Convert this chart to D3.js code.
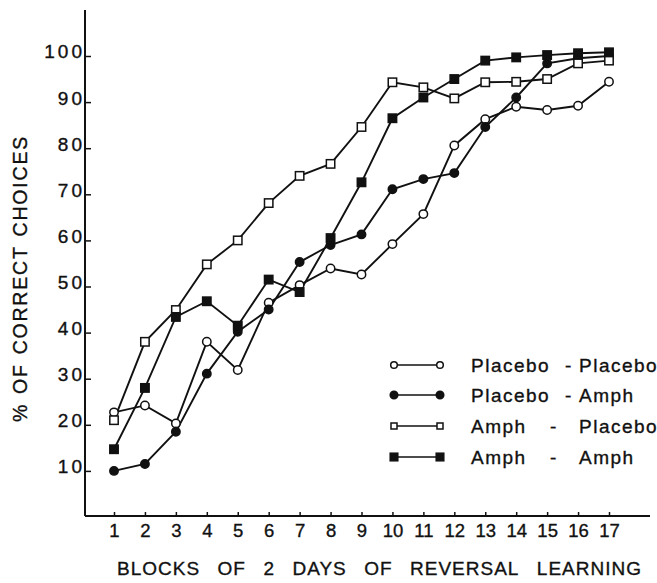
<!DOCTYPE html>
<html>
<head>
<meta charset="utf-8">
<script src="https://cdn.jsdelivr.net/npm/d3@7"></script>
<style>
  html, body { margin: 0; padding: 0; background: #fff; }
  svg { display: block; }
  text { font-family: "Liberation Sans", Arial, sans-serif; fill: #111; stroke: #111; stroke-width: 0.35px; }
</style>
</head>
<body>
<svg id="chart" width="657" height="583"></svg>
<script>
/* ---------- data ---------- */
const blocks = [1, 2, 3, 4, 5, 6, 7, 8, 9, 10, 11, 12, 13, 14, 15, 16, 17];
const yTicks = [10, 20, 30, 40, 50, 60, 70, 80, 90, 100];

const placeboPlacebo = [22.7, 24.2, 20.3, 38, 31.9, 46.5, 50.3, 53.9, 52.6, 59.2, 65.7, 80.6, 86.3, 89, 88.3, 89.2, 94.4];
const placeboAmph    = [10, 11.5, 18.5, 31.1, 40.2, 45, 55.3, 59, 61.3, 71.1, 73.3, 74.6, 84.6, 91, 98.4, 99.5, 100];
const amphPlacebo    = [21, 38, 44.9, 54.8, 60, 68.1, 74, 76.6, 84.6, 94.3, 93.2, 90.8, 94.3, 94.4, 95, 98.4, 99];
const amphAmph       = [14.7, 28, 43.4, 46.8, 41.5, 51.5, 48.8, 60.5, 72.6, 86.5, 91, 95, 99, 99.7, 100.2, 100.6, 100.8];

const seriesNames = [["Placebo", "Placebo"], ["Placebo", "Amph"], ["Amph", "Placebo"], ["Amph", "Amph"]];
const seriesMarks = ["openCircle", "filledCircle", "openSquare", "filledSquare"];
const seriesValues = [placeboPlacebo, placeboAmph, amphPlacebo, amphAmph];

const xTitleWords = ["BLOCKS", "OF", "2", "DAYS", "OF", "REVERSAL", "LEARNING"];
const yTitleWords = ["%", "OF", "CORRECT", "CHOICES"];

/* ---------- scales ---------- */
const svg = d3.select("#chart");
const x = d3.scaleLinear().domain([1, 17]).range([114, 609]);
const y = d3.scaleLinear().domain([0, 100]).range([517, 56]);
const AX_X = 85, AX_Y = 516;

/* ---------- axes ---------- */
svg.append("line")
  .attr("x1", AX_X).attr("x2", AX_X).attr("y1", 10).attr("y2", AX_Y)
  .attr("stroke", "#111").attr("stroke-width", 2);
svg.append("line")
  .attr("x1", AX_X).attr("x2", 650).attr("y1", AX_Y).attr("y2", AX_Y)
  .attr("stroke", "#111").attr("stroke-width", 2);

const gx = svg.append("g").attr("transform", `translate(0,${AX_Y})`)
  .call(d3.axisBottom(x).tickValues(blocks).tickSize(-4).tickPadding(8));
gx.select(".domain").remove();
gx.selectAll("line").attr("stroke", "#111").attr("stroke-width", 1.5);
gx.selectAll("text").attr("font-size", 18.5).attr("fill", "#111")
  .style("font-family", '"Liberation Sans", Arial, sans-serif');

const gy = svg.append("g").attr("transform", `translate(${AX_X},0)`)
  .call(d3.axisLeft(y).tickValues(yTicks).tickSize(-6).tickPadding(0));
gy.select(".domain").remove();
gy.selectAll("line").attr("stroke", "#111").attr("stroke-width", 1.5);
gy.selectAll("text").attr("font-size", 19).attr("fill", "#111")
  .attr("dy", "0.1em").attr("letter-spacing", 3)
  .style("font-family", '"Liberation Sans", Arial, sans-serif');

/* ---------- axis titles: words spread with even gaps ---------- */
function spreadWords(g, words, start, end, size, ls) {
  const nodes = words.map(w => g.append("text").attr("font-size", size)
    .attr("letter-spacing", ls).attr("y", 0).text(w));
  const widths = nodes.map(n => n.node().getComputedTextLength());
  const gap = (end - start - d3.sum(widths)) / (words.length - 1);
  let cx = start;
  nodes.forEach((n, i) => { n.attr("x", cx); cx += widths[i] + gap; });
}
spreadWords(svg.append("g").attr("transform", "translate(0,575)"),
  xTitleWords, 117, 642, 19, 1);
spreadWords(svg.append("g").attr("transform", "translate(27,0) rotate(-90)"),
  yTitleWords, -422, -135, 19.5, 1.8);

/* ---------- markers ---------- */
function drawMark(g, kind, cx, cy, s) {
  const filled = kind.startsWith("filled");
  if (kind.endsWith("Circle")) {
    g.append("circle").attr("cx", cx).attr("cy", cy).attr("r", s)
      .attr("fill", filled ? "#111" : "#fff").attr("stroke", "#111").attr("stroke-width", 1.5);
  } else {
    g.append("rect").attr("x", cx - s).attr("y", cy - s).attr("width", 2 * s).attr("height", 2 * s)
      .attr("fill", filled ? "#111" : "#fff").attr("stroke", "#111").attr("stroke-width", 1.5);
  }
}

/* ---------- lines ---------- */
const line = d3.line().x((d, i) => x(blocks[i])).y(d => y(d));
const gLines = svg.append("g");
seriesValues.forEach(vals => {
  gLines.append("path").attr("d", line(vals))
    .attr("fill", "none").attr("stroke", "#111").attr("stroke-width", 1.9);
});
const gMarks = svg.append("g");
seriesValues.forEach((vals, si) => {
  vals.forEach((v, i) => drawMark(gMarks, seriesMarks[si], x(blocks[i]), y(v), 4.2));
});

/* ---------- legend ---------- */
const legY = [365, 395, 426, 457];
const dashX = [565, 565, 550, 550];
const gLeg = svg.append("g");
seriesNames.forEach((nm, i) => {
  const ly = legY[i];
  gLeg.append("line").attr("x1", 394).attr("x2", 440).attr("y1", ly).attr("y2", ly)
    .attr("stroke", "#111").attr("stroke-width", 1.6);
  const s = i === 0 ? 3.3 : i === 2 ? 3 : 3.8;
  drawMark(gLeg, seriesMarks[i], 394, ly, s);
  drawMark(gLeg, seriesMarks[i], 440, ly, s);
  const t = (tx, str) => gLeg.append("text").attr("x", tx).attr("y", ly + 7)
    .attr("font-size", 19).attr("letter-spacing", 1.5).text(str);
  t(471, nm[0]);
  t(dashX[i], "-");
  t(579, nm[1]);
});
</script>
</body>
</html>
